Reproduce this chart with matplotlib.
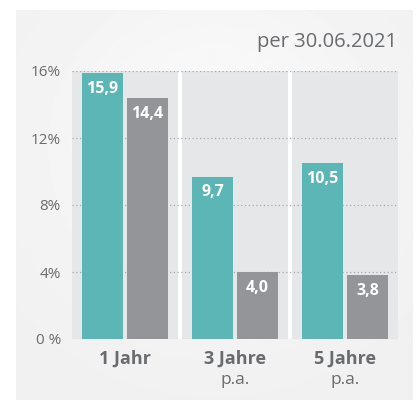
import matplotlib.pyplot as plt
import numpy as np

# data
categories = ["1 Jahr", "3 Jahre", "5 Jahre"]
subtitles = ["", "p.a.", "p.a."]
fund = [15.9, 9.7, 10.5]
benchmark = [14.4, 4.0, 3.8]
yticks = [0, 4, 8, 12, 16]
ytick_labels = ["0 %", "4%", "8%", "12%", "16%"]

teal = "#5bb6b5"
grey = "#949599"
cell = "#e6e7e8"
txt = "#6a6b6e"

plt.rcParams['font.family'] = ['Open Sans', 'DejaVu Sans']

fig = plt.figure(figsize=(4.18, 4.08), dpi=100)
fig.patch.set_facecolor("white")

# light background panel with a soft gradient
bg = fig.add_axes([16 / 418, 8 / 408, 397 / 418, 390 / 408])
yy, xx = np.mgrid[-1:1:200j, -1:1:200j]
shade = 0.94 + 0.04 * np.exp(-(xx ** 2 + (yy + 0.3) ** 2) * 1.2)
bg.imshow(shade, cmap="gray", vmin=0, vmax=1, aspect="auto", extent=[0, 1, 0, 1])
bg.set_axis_off()

ax = fig.add_axes([72 / 418, 69 / 408, 326 / 418, 268 / 408])
ax.set_facecolor("white")
g = 0.0185
ax.set_xlim(g, 3 - g)
ax.set_ylim(0, 16)

for i in range(3):
    ax.axvspan(i + g, i + 1 - g, color=cell, lw=0, zorder=0)

for y in yticks:
    ax.axhline(y, color="#a7a8aa", lw=0.9, ls=(0, (1, 2)), zorder=1)

x = np.arange(3)
w = 0.38
b1 = ax.bar(x + 0.295, fund, w, color=teal, zorder=2)
b2 = ax.bar(x + 0.705, benchmark, w, color=grey, zorder=2)

for bars, vals in ((b1, fund), (b2, benchmark)):
    for r, v in zip(bars, vals):
        ax.annotate(f"{v:.1f}".replace(".", ","),
                    (r.get_x() + r.get_width() / 2, v),
                    xytext=(0, -11.5), textcoords="offset points",
                    ha="center", va="center", color="white",
                    fontsize=11.5, fontweight="bold", zorder=3)

for s in ax.spines.values():
    s.set_visible(False)
ax.set_xticks([])
ax.set_yticks(yticks)
ax.set_yticklabels(ytick_labels, color=txt, fontsize=11)
ax.tick_params(axis="y", length=0, pad=8)

for i, (c, s) in enumerate(zip(categories, subtitles)):
    ax.text(i + 0.5, -1.15, c, ha="center", va="center", color=txt,
            fontsize=13, fontweight="bold")
    if s:
        ax.text(i + 0.5, -2.45, s, ha="center", va="center", color=txt,
                fontsize=12.5)

fig.text(397 / 418, 1 - 42 / 408, "per 30.06.2021", ha="right", va="center",
         color=txt, fontsize=14.5)

fig.savefig("out.png", dpi=100)
